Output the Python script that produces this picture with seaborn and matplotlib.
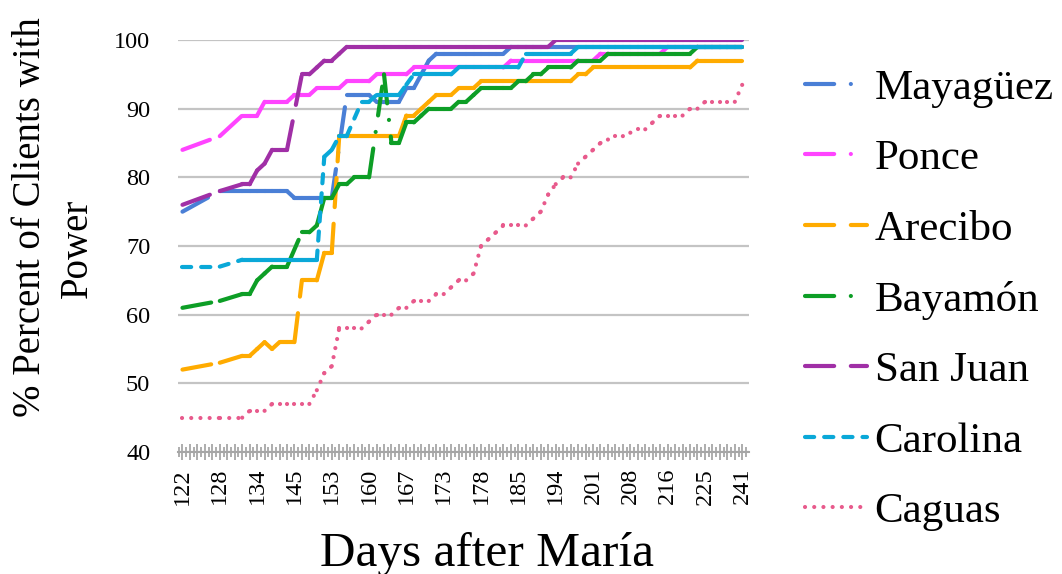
import numpy as np
import pandas as pd
import matplotlib
matplotlib.use('Agg')
import matplotlib.pyplot as plt
import seaborn as sns
from matplotlib.lines import Line2D
from matplotlib.ticker import FixedLocator, FixedFormatter

nan = np.nan

# Days after Maria (category axis, one entry per report)
days = [122, 124, 125, 126, 127, 128, 129, 130, 131, 133,
        134, 136, 138, 140, 143, 145, 146, 148, 150, 151,
        153, 154, 155, 157, 158, 160, 161, 163, 164, 165,
        167, 168, 169, 170, 172, 173, 174, 175, 176, 177,
        178, 179, 181, 182, 183, 185, 187, 188, 190, 192,
        194, 195, 196, 198, 199, 201, 202, 204, 205, 206,
        208, 210, 211, 213, 215, 216, 218, 220, 222, 223,
        225, 228, 231, 235, 238, 241]

cities = ['Mayagüez', 'Ponce', 'Arecibo', 'Bayamón', 'San Juan', 'Carolina', 'Caguas']

# % of clients with power per city (nan = no report that day)
mayaguez = [75, nan, nan, nan, nan, 78, nan, nan, 78, 78,
            78, 78, 78, 78, 78, 77, 77, 77, 77, 77,
            77, nan, 92, 92, 92, 92, 91, 91, 91, 91,
            93, 93, 95, 97, 98, 98, 98, 98, 98, 98,
            98, 98, 98, 98, 99, 99, 99, 99, 99, 99,
            99, 99, 99, 99, 99, 99, 99, 99, 99, 99,
            99, 99, 99, 99, 99, 99, 99, 99, 99, 99,
            99, 99, 99, 99, 99, 99]
ponce = [84, nan, nan, nan, nan, 86, nan, nan, 89, 89,
         89, 91, 91, 91, 91, 92, 92, 92, 93, 93,
         93, 93, 94, 94, 94, 94, 95, 95, 95, 95,
         95, 96, 96, 96, 96, 96, 96, 96, 96, 96,
         96, 96, 96, 96, 97, 97, 97, 97, 97, 97,
         97, 97, 97, 97, 97, 97, 98, 98, 98, 98,
         98, 98, 98, 98, 98, 99, 99, 99, 99, 99,
         99, 99, 99, 99, 99, 99]
arecibo = [52, nan, nan, nan, nan, 53, nan, nan, 54, 54,
           55, 56, 55, 56, 56, 56, 65, 65, 65, 69,
           69, 86, 86, 86, 86, 86, 86, 86, 86, 86,
           89, 89, 90, 91, 92, 92, 92, 93, 93, 93,
           94, 94, 94, 94, 94, 94, 94, 94, 94, 94,
           94, 94, 94, 95, 95, 96, 96, 96, 96, 96,
           96, 96, 96, 96, 96, 96, 96, 96, 96, 97,
           97, 97, 97, 97, 97, 97]
bayamon = [61, nan, nan, nan, nan, 62, nan, nan, 63, 63,
           65, 66, 67, 67, 67, nan, 72, 72, 73, 77,
           77, 79, 79, 80, 80, 80, nan, 95, 85, 85,
           88, 88, 89, 90, 90, 90, 90, 91, 91, 92,
           93, 93, 93, 93, 93, 94, 94, 95, 95, 96,
           96, 96, 96, 97, 97, 97, 97, 98, 98, 98,
           98, 98, 98, 98, 98, 98, 98, 98, 98, 99,
           99, 99, 99, 99, 99, 99]
san_juan = [76, nan, nan, nan, nan, 78, nan, nan, 79, 79,
            81, 82, 84, 84, 84, nan, 95, 95, 96, 97,
            97, 98, 99, 99, 99, 99, 99, 99, 99, 99,
            99, 99, 99, 99, 99, 99, 99, 99, 99, 99,
            99, 99, 99, 99, 99, 99, 99, 99, 99, 99,
            100, 100, 100, 100, 100, 100, 100, 100, 100, 100,
            100, 100, 100, 100, 100, 100, 100, 100, 100, 100,
            100, 100, 100, 100, 100, 100]
carolina = [67, nan, nan, nan, nan, 67, nan, nan, 68, 68,
            68, 68, 68, 68, 68, 68, 68, 68, 68, 83,
            84, 86, 86, nan, 91, 91, 92, 92, 92, 92,
            93.5, 95, 95, 95, 95, 95, 95, 96, 96, 96,
            96, 96, 96, 96, 96, 96, 98, 98, 98, 98,
            98, 98, 98, 99, 99, 99, 99, 99, 99, 99,
            99, 99, 99, 99, 99, 99, 99, 99, 99, 99,
            99, 99, 99, 99, 99, 99]
caguas = [45, nan, nan, nan, nan, 45, nan, nan, 45, 46,
          46, 46, 47, 47, 47, 47, 47, 47, 49, 51.5,
          52.5, 58, 58, 58, 58, 59, 60, 60, 60, 61,
          61, 62, 62, 62, 63, 63, 64, 65, 65, 66,
          70, 71, 72, 73, 73, 73, 73, 74, 75, 77.5,
          79, 80, 80, 82, 83, 84, 85, 85.5, 86, 86,
          86.5, 87, 87, 88, 89, 89, 89, 89, 90, 90,
          91, 91, 91, 91, 91, 93.5]

series = [mayaguez, ponce, arecibo, bayamon, san_juan, carolina, caguas]

colors = {'Mayagüez': '#4a7fd6', 'Ponce': '#ff44ff', 'Arecibo': '#ffab00',
          'Bayamón': '#0d9e26', 'San Juan': '#a02fa6', 'Carolina': '#0aa8d8',
          'Caguas': '#e85a8c'}
dash_map = {'Mayagüez': (7, 4, 0.01, 4), 'Ponce': (7, 4, 0.01, 4),
            'Arecibo': (7, 4), 'Bayamón': (7, 4, 0.01, 4),
            'San Juan': (7, 4), 'Carolina': (2.2, 2.4),
            'Caguas': (0.01, 2.2)}
LW = 3.0

# Excel restarts the dash pattern on each segment, so draw each
# pair of consecutive reports as its own unit
rows = []
for city, vals in zip(cities, series):
    idx = [i for i, v in enumerate(vals) if not np.isnan(v)]
    for k, (a, b) in enumerate(zip(idx[:-1], idx[1:])):
        rows.append((city, f'{city}-{k}', a, vals[a]))
        rows.append((city, f'{city}-{k}', b, vals[b]))
df = pd.DataFrame(rows, columns=['city', 'seg', 'pos', 'pct'])

sns.set_theme(style='white')
plt.rcParams['font.family'] = ['Liberation Serif', 'DejaVu Serif']
plt.rcParams['text.color'] = 'black'
plt.rcParams['axes.labelcolor'] = 'black'

fig = plt.figure(figsize=(10.62, 5.74), dpi=100)
ax = fig.add_axes([178 / 1062, 1 - 452 / 574, (749 - 178) / 1062, (452 - 40) / 574])

sns.lineplot(data=df, x='pos', y='pct', hue='city', style='city', units='seg',
             estimator=None, sort=False, hue_order=cities, style_order=cities,
             palette=colors, dashes=dash_map, lw=LW, legend=False, ax=ax,
             dash_capstyle='round', solid_capstyle='round')

ax.set_ylim(40, 100)
ax.set_xlim(-0.6, 75.9)
ax.set_yticks(range(40, 101, 10))
ax.yaxis.grid(True, color='#c4c4c4', lw=1.6)
ax.set_axisbelow(True)
for s in ['left', 'right', 'top']:
    ax.spines[s].set_visible(False)
ax.spines['bottom'].set_color('#a6a6a6')
ax.spines['bottom'].set_linewidth(1.5)

ax.xaxis.set_major_locator(FixedLocator(range(len(days))))
ax.xaxis.set_major_formatter(FixedFormatter(
    [str(d) if i % 5 == 0 else '' for i, d in enumerate(days)]))
ax.xaxis.set_minor_locator(FixedLocator([i + 0.5 for i in range(-1, len(days))]))
ax.tick_params(axis='x', which='major', direction='inout', length=11, width=1.2,
               color='#a0a0a0', labelcolor='black', labelsize=17.5, labelrotation=90,
               pad=6, bottom=True)
ax.tick_params(axis='x', which='minor', direction='inout', length=7, width=1.2,
               color='#a0a0a0', bottom=True)
ax.tick_params(axis='y', length=0, labelsize=17.5, labelcolor='black', pad=20)

ax.set_xlabel('Days after María', fontsize=35.5)
ax.xaxis.set_label_coords((487 - 178) / 571, (452 - 566) / 412)
ax.xaxis.label.set_verticalalignment('baseline')
ax.set_ylabel('')
fig.text(31 / 1062, 1 - 217 / 574, '% Percent of Clients with', rotation=90,
         ha='center', va='center', fontsize=28)
fig.text(77 / 1062, 1 - 248 / 574, 'Power', rotation=90,
         ha='center', va='center', fontsize=28)

handles = [Line2D([], [], color=colors[c], lw=LW, dashes=dash_map[c],
                  dash_capstyle='round', solid_capstyle='round') for c in cities]
ax.legend(handles, cities, loc='center left', bbox_to_anchor=(805 / 1062, 1 - 300 / 574),
          bbox_transform=fig.transFigure, frameon=False, fontsize=31,
          handlelength=1.45, handletextpad=0.17, labelspacing=0.73, borderpad=0,
          borderaxespad=0)

fig.savefig('out.png', dpi=100)
